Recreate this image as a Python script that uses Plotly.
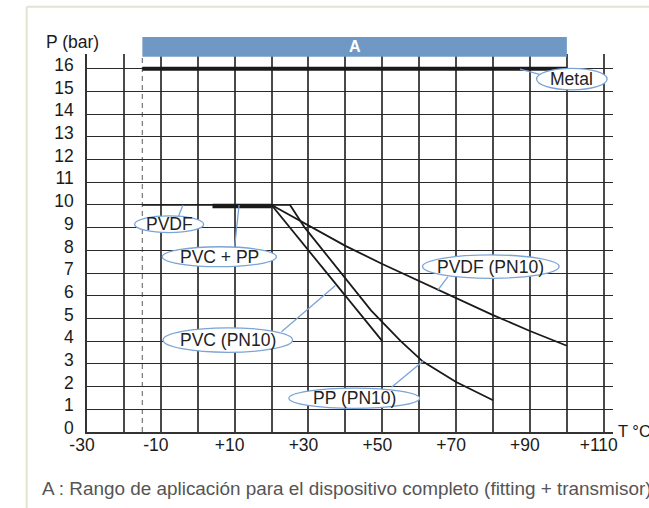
import plotly.graph_objects as go

# axes
t_ticks = list(range(-30, 111, 10))
t_labels = ['-30', '', '-10', '', '+10', '', '+30', '', '+50', '', '+70', '', '+90', '', '+110']
p_ticks = list(range(0, 17))

# flat limits
metal_t = [-15, 100]
metal_p = [16, 16]
pvdf_t = [-15, 20]
pvdf_p = [10, 10]
pvcpp_t = [4, 20]
pvcpp_p = [9.95, 9.95]

# derating curves
pvc_t = [20, 50]
pvc_p = [10, 4]
pp_t = [20, 25, 29, 34, 39, 47, 55, 61, 70, 80]
pp_p = [10, 10, 9, 8, 7, 5.35, 4.0, 3.1, 2.2, 1.4]
pvdf10_t = [20, 30, 40, 50, 60, 70, 80, 90, 100]
pvdf10_p = [10, 9.1, 8.2, 7.4, 6.65, 5.9, 5.15, 4.45, 3.8]

# range A
a_t = [-15, 100]

# callouts: text, ellipse (x0,x1,y0,y1), leader line (xa,ya,xb,yb)
callout_text = ['PVDF', 'PVC + PP', 'PVC (PN10)', 'PP (PN10)', 'PVDF (PN10)', 'Metal']
callout_box = [(-17.1, 1.6, 8.78, 9.52), (-9.6, 21.3, 7.28, 8.16), (-9.4, 25.7, 3.51, 4.59),
               (24.7, 60.1, 1.04, 1.93), (60.9, 97.9, 6.77, 7.8), (91.8, 110.9, 15.07, 16.02)]
callout_lead = [(-4, 10, -5.8, 9.26), (11.2, 10, 10, 8.16), (22.7, 4.42, 37.3, 6.45),
                (52.5, 1.97, 61.1, 3.13), (65.1, 6.26, 67.8, 6.84), (87.3, 15.98, 93.1, 15.73)]

caption = 'A : Rango de aplicación para el dispositivo completo (fitting + transmisor)'

FONT = 'Liberation Sans, Arial, Helvetica, sans-serif'
XR = [-30, 112.5]
YR = [0, 16.65]
W, H = 649, 508
ML, MT = 87, 54
MR, MB = W - 613, H - 432


def px_x(px):
    return (px - ML) / (W - ML - MR)


def px_y(py):
    return (H - MB - py) / (H - MT - MB)


def t2paper(t):
    return (t - XR[0]) / (XR[1] - XR[0])


fig = go.Figure()

# leader lines under ellipses
for (xa, ya, xb, yb) in callout_lead:
    fig.add_shape(type='line', x0=xa, y0=ya, x1=xb, y1=yb, xref='x', yref='y',
                  line=dict(color='#7aa3d6', width=1.3), layer='above')

# dashed lower limit
fig.add_shape(type='line', x0=-15, x1=-15, y0=0, y1=16.5, xref='x', yref='y',
              line=dict(color='#808080', width=1.3, dash='5px,4px'), layer='below')

fig.add_trace(go.Scatter(x=pvdf_t, y=pvdf_p, mode='lines', line=dict(color='#1a1a1a', width=1.8),
                         showlegend=False, hoverinfo='skip'))
fig.add_trace(go.Scatter(x=pvc_t, y=pvc_p, mode='lines', line=dict(color='#1a1a1a', width=1.8),
                         showlegend=False, hoverinfo='skip'))
fig.add_trace(go.Scatter(x=pp_t, y=pp_p, mode='lines', line=dict(color='#1a1a1a', width=1.8),
                         showlegend=False, hoverinfo='skip'))
fig.add_trace(go.Scatter(x=pvdf10_t, y=pvdf10_p, mode='lines', line=dict(color='#1a1a1a', width=1.8),
                         showlegend=False, hoverinfo='skip'))
fig.add_trace(go.Scatter(x=pvcpp_t, y=pvcpp_p, mode='lines', line=dict(color='#1a1a1a', width=4.5),
                         showlegend=False, hoverinfo='skip'))
fig.add_trace(go.Scatter(x=metal_t, y=metal_p, mode='lines', line=dict(color='#1a1a1a', width=4.2),
                         showlegend=False, hoverinfo='skip'))

# ellipses + labels
for txt, (x0, x1, y0, y1) in zip(callout_text, callout_box):
    fig.add_shape(type='circle', x0=x0, x1=x1, y0=y0, y1=y1, xref='x', yref='y',
                  fillcolor='white', line=dict(color='#7aa3d6', width=1.3), layer='above')
    fig.add_annotation(x=(x0 + x1) / 2, y=(y0 + y1) / 2, text=txt, showarrow=False,
                       xanchor='center', yanchor='middle',
                       font=dict(family=FONT, size=17.5, color='#222222'))

# range A bar
fig.add_shape(type='rect', xref='paper', yref='paper',
              x0=t2paper(a_t[0]), x1=t2paper(a_t[1]), y0=px_y(56.7), y1=px_y(37),
              fillcolor='#7098c5', line=dict(width=0), layer='above')
fig.add_annotation(xref='paper', yref='paper', x=t2paper(sum(a_t) / 2), y=px_y(46.5), text='<b>A</b>',
                   showarrow=False, xanchor='center', yanchor='middle',
                   font=dict(family=FONT, size=16, color='white'))

# frame
fig.add_shape(type='line', xref='paper', yref='paper', x0=px_x(26.7), x1=px_x(660), y0=px_y(6.7), y1=px_y(6.7),
              line=dict(color='#e4e2d0', width=2))
fig.add_shape(type='line', xref='paper', yref='paper', x0=px_x(26.7), x1=px_x(26.7), y0=px_y(6.7), y1=px_y(520),
              line=dict(color='#e4e2d0', width=2))

# axis titles and caption
fig.add_annotation(xref='paper', yref='paper', x=px_x(72), y=px_y(42), text='P (bar)', showarrow=False,
                   xanchor='center', yanchor='middle',
                   font=dict(family=FONT, size=17.5, color='#1a1a1a'))
fig.add_annotation(xref='paper', yref='paper', x=px_x(616), y=px_y(431), text='T °C', showarrow=False,
                   xanchor='left', yanchor='middle', font=dict(family=FONT, size=16.5, color='#1a1a1a'))
fig.add_annotation(xref='paper', yref='paper', x=px_x(40), y=px_y(488), text=caption, showarrow=False,
                   xanchor='left', yanchor='middle', font=dict(family=FONT, size=18.9, color='#555555'))

fig.update_xaxes(range=XR, tickvals=t_ticks, ticktext=t_labels, showgrid=True, gridcolor='#4a4a4a',
                 gridwidth=1.5, showline=True, linecolor='#333333', linewidth=1.5, zeroline=False,
                 ticks='', ticklabelstandoff=-4, ticklabelshift=-5,
                 tickfont=dict(family=FONT, size=17.5, color='#1a1a1a'))
fig.update_yaxes(range=YR, tickvals=p_ticks, showgrid=True, gridcolor='#2a2a2a', gridwidth=1.3,
                 showline=True, linecolor='#333333', linewidth=1.5, zeroline=False,
                 ticks='', ticklabelstandoff=8, ticklabelshift=-4,
                 tickfont=dict(family=FONT, size=17.5, color='#1a1a1a'))

fig.update_layout(width=W, height=H, margin=dict(l=ML, r=MR, t=MT, b=MB, autoexpand=False),
                  paper_bgcolor='white', plot_bgcolor='white', showlegend=False)

# page body has an 8px default margin; drop it so the figure fills the window
fig.write_html('out.html', config={'displayModeBar': False},
               post_script="document.body.style.margin='0';"
                           "document.documentElement.style.overflow='hidden';")
